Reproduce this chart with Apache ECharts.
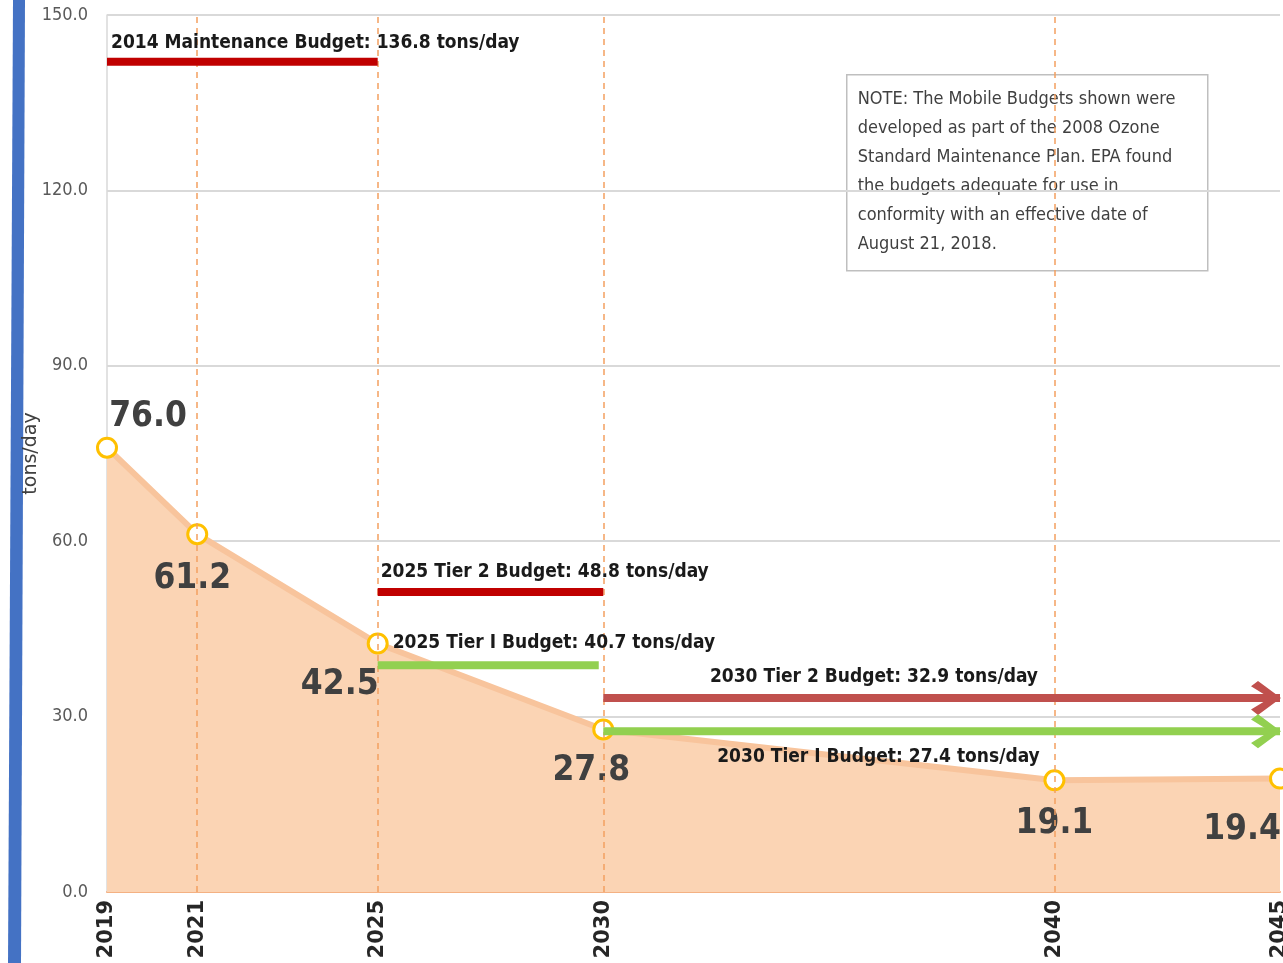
<!DOCTYPE html>
<html>
<head>
<meta charset="utf-8">
<script src="https://cdn.jsdelivr.net/npm/echarts@6/dist/echarts.min.js"></script>
<style>
html, body { margin: 0; padding: 0; background: #fff; }
#chart { width: 1283px; height: 963px; }
</style>
</head>
<body>
<div id="chart"></div>
<script>
// emissions by year
const years = [2019, 2021, 2025, 2030, 2040, 2045];
const emissions = [76.0, 61.2, 42.5, 27.8, 19.1, 19.4];
const guideYears = [2021, 2025, 2030, 2040];

// budgets (level = where the bar is drawn in the picture)
const budgetLabels = [
  '2014 Maintenance Budget: 136.8 tons/day',
  '2025 Tier 2 Budget: 48.8 tons/day',
  '2025 Tier I Budget: 40.7 tons/day',
  '2030 Tier 2 Budget: 32.9 tons/day',
  '2030 Tier I Budget: 27.4 tons/day'
];
const budgetStart = [2019, 2025, 2025, 2030, 2030];
const budgetEnd = [2025, 2030, 2029.9, 2045, 2045];
const budgetLevel = [142.0, 51.3, 38.8, 33.2, 27.5];
const budgetLabelAt = [2019, 2025, 2025, 2036, 2036.1];

const noteLines = [
  'NOTE: The Mobile Budgets shown were',
  'developed as part of the 2008 Ozone',
  'Standard Maintenance Plan. EPA found',
  'the budgets adequate for use in',
  'conformity with an effective date of',
  'August 21, 2018.'
];

// styling
const NARROW = "'Liberation Sans Narrow', 'DejaVu Sans Condensed', sans-serif";
const budgetColors = ['#C00000', '#C00000', '#92D050', '#C0504D', '#92D050'];
const budgetArrow = [false, false, false, true, true];
const budgetLabelStyle = [
  { position: 'top', align: 'left', offset: [4, -9] },
  { position: 'top', align: 'left', offset: [3, -10] },
  { position: 'top', align: 'left', offset: [15, -12] },
  { position: 'top', align: 'center', offset: [0, -11] },
  { position: 'bottom', align: 'center', offset: [0, 16] }
];
// where each value label sits around its marker
const pointLabelStyle = [
  { position: 'top', offset: [41, 3] },
  { position: 'bottom', offset: [-5, 11] },
  { position: 'bottom', offset: [-38, 8] },
  { position: 'bottom', offset: [-12, 8] },
  { position: 'bottom', offset: [0, 10] },
  { position: 'bottom', offset: [-38, 18] }
];
const ARROW = 'path://M7,0 L30,16 L7,32 L0,27 L19,16 L0,5 Z';

const chart = echarts.init(document.getElementById('chart'));

const budgetSeries = budgetLabels.map((text, i) => {
  const data = [
    { value: [budgetStart[i], budgetLevel[i]] },
    {
      value: [budgetLabelAt[i], budgetLevel[i]],
      label: Object.assign({
        show: true,
        formatter: text,
        fontFamily: NARROW,
        fontWeight: 'bold',
        fontSize: 19,
        color: '#1a1a1a',
        distance: 0
      }, budgetLabelStyle[i])
    },
    { value: [budgetEnd[i], budgetLevel[i]] }
  ];
  data.sort((a, b) => a.value[0] - b.value[0]);
  if (budgetArrow[i]) {
    const last = data[data.length - 1];
    last.symbol = ARROW;
    last.symbolSize = [30, 34];
    last.symbolOffset = [-14, 0];
    last.itemStyle = { color: budgetColors[i] };
  }
  return {
    type: 'line',
    z: 5,
    clip: false,
    silent: true,
    symbol: 'circle',
    symbolSize: 1,
    itemStyle: { color: 'transparent' },
    lineStyle: { color: budgetColors[i], width: 8 },
    data: data
  };
});

chart.setOption({
  animation: false,
  grid: { left: 107, right: 3, top: 15, bottom: 71, outerBoundsMode: 'none' },
  xAxis: {
    type: 'value',
    min: 2019,
    max: 2045,
    axisLine: { show: true, lineStyle: { color: '#F4B183', width: 2 } },
    axisTick: { show: false },
    splitLine: { show: false },
    axisLabel: {
      customValues: years,
      rotate: 90,
      margin: 8,
      fontFamily: 'DejaVu Sans',
      fontWeight: 'bold',
      fontSize: 21,
      color: '#262626',
      formatter: v => String(v)
    }
  },
  yAxis: {
    type: 'value',
    min: 0,
    max: 150,
    interval: 30,
    name: 'tons/day',
    nameLocation: 'middle',
    nameGap: 66,
    nameMoveOverlap: false,
    nameRotate: 90,
    nameTextStyle: { fontFamily: 'DejaVu Sans', fontSize: 19, color: '#404040' },
    axisLine: { show: true, lineStyle: { color: '#D9D9D9', width: 1.5 } },
    axisTick: { show: false },
    splitLine: { lineStyle: { color: '#D9D9D9', width: 2 } },
    axisLabel: {
      margin: 19,
      fontFamily: NARROW,
      fontSize: 18,
      color: '#595959',
      formatter: v => v.toFixed(1)
    }
  },
  graphic: [
    {
      type: 'polygon',
      silent: true,
      shape: { points: [[13, 0], [25, 0], [21, 963], [8, 963]] },
      style: { fill: '#4472C4' }
    },
    {
      type: 'group',
      left: 846,
      top: 74,
      z: 20,
      children: [
        {
          type: 'rect',
          shape: { x: 0, y: 0, width: 361, height: 196 },
          style: { fill: '#fff', stroke: '#BFBFBF', lineWidth: 1.5 }
        },
        {
          type: 'text',
          x: 11,
          y: 10,
          style: {
            text: noteLines.join('\n'),
            font: '18px ' + NARROW,
            fill: '#404040',
            lineHeight: 29
          }
        }
      ]
    }
  ],
  series: [
    {
      type: 'line',
      z: 2,
      data: years.map((y, i) => ({
        value: [y, emissions[i]],
        label: Object.assign({
          show: true,
          formatter: emissions[i].toFixed(1),
          fontFamily: NARROW,
          fontWeight: 'bold',
          fontSize: 35,
          color: '#404040'
        }, pointLabelStyle[i])
      })),
      clip: false,
      symbol: 'circle',
      symbolSize: 19,
      itemStyle: { color: '#fff', borderColor: '#FFC000', borderWidth: 3 },
      lineStyle: { color: '#F8C49C', width: 6 },
      areaStyle: { color: '#FBD4B4', opacity: 1 },
      markLine: {
        silent: true,
        symbol: 'none',
        label: { show: false },
        lineStyle: { color: '#F4A060', width: 1.5, type: [6, 5] },
        data: guideYears.map(y => ({ xAxis: y }))
      }
    }
  ].concat(budgetSeries)
});
</script>
</body>
</html>
